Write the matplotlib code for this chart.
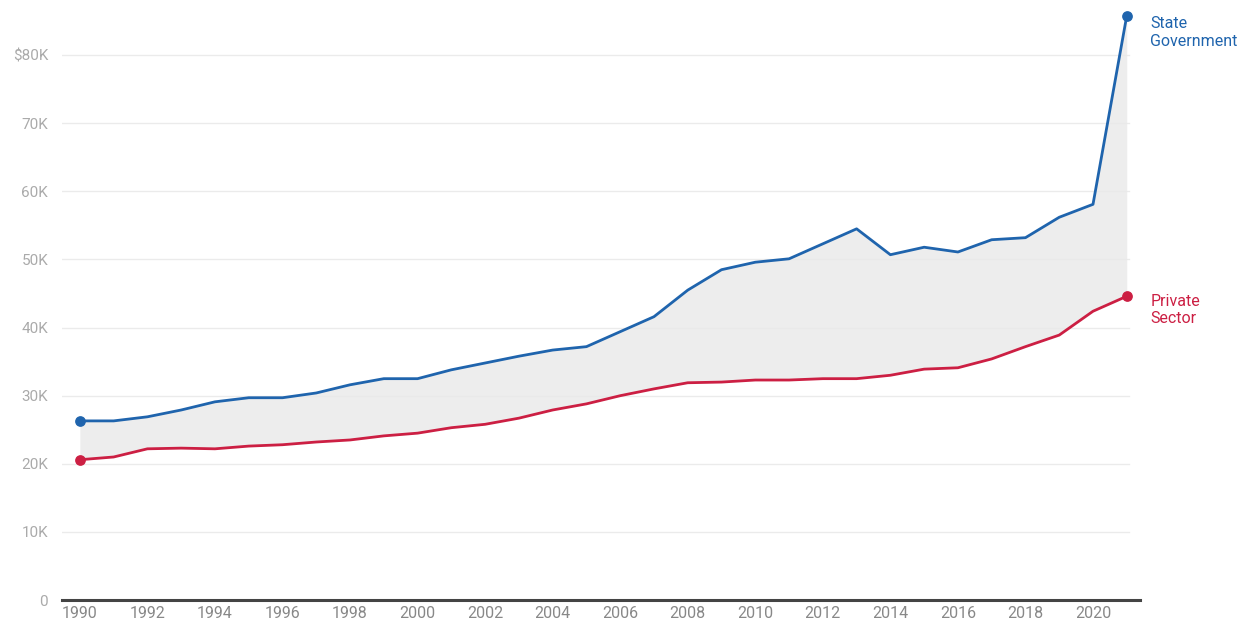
import matplotlib.pyplot as plt
import numpy as np

years = list(range(1990, 2022))
state_gov = [26.3, 26.3, 26.9, 27.9, 29.1, 29.7, 29.7, 30.4, 31.6, 32.5,
             32.5, 33.8, 34.8, 35.8, 36.7, 37.2, 39.4, 41.6, 45.5, 48.5,
             49.6, 50.1, 52.3, 54.5, 50.7, 51.8, 51.1, 52.9, 53.2, 56.2,
             58.1, 85.8]
private = [20.6, 21.0, 22.2, 22.3, 22.2, 22.6, 22.8, 23.2, 23.5, 24.1,
           24.5, 25.3, 25.8, 26.7, 27.9, 28.8, 30.0, 31.0, 31.9, 32.0,
           32.3, 32.3, 32.5, 32.5, 33.0, 33.9, 34.1, 35.4, 37.2, 38.9,
           42.4, 44.6]
yticks = [0, 10, 20, 30, 40, 50, 60, 70, 80]
ytick_labels = ['0', '10K', '20K', '30K', '40K', '50K', '60K', '70K', '$80K']
xticks = list(range(1990, 2021, 2))

plt.rcParams['font.family'] = ['Roboto', 'DejaVu Sans']

blue = '#1f64ad'
red = '#cc1f43'

fig = plt.figure(figsize=(12.52, 6.3), dpi=100)
ax = fig.add_axes([0.0495, 0.0476, 0.861, 0.9524])

x = np.array(years)
s = np.array(state_gov) * 1000
p = np.array(private) * 1000

ax.fill_between(x, p, s, color='#e9e9e9', alpha=0.8, lw=0, zorder=1)
ax.plot(x, s, color=blue, lw=2, zorder=3)
ax.plot(x, p, color=red, lw=2, zorder=3)
for ser, c in [(s, blue), (p, red)]:
    ax.scatter([x[0], x[-1]], [ser[0], ser[-1]], color=c, s=45, zorder=4, clip_on=False)

ax.set_xlim(1989.47, 2021.39)
ax.set_ylim(0, 88100)
ax.set_yticks([v * 1000 for v in yticks])
ax.set_yticklabels(ytick_labels)
ax.set_xticks(xticks)
ax.set_xticklabels([str(v) for v in xticks])

for v in yticks[1:]:
    ax.axhline(v * 1000, color='#ebebeb', lw=1, zorder=0, xmax=0.99)

for sp in ['top', 'right', 'left']:
    ax.spines[sp].set_visible(False)
ax.spines['bottom'].set_color('#444444')
ax.spines['bottom'].set_linewidth(2.2)
ax.tick_params(axis='y', length=0, pad=10, labelsize=11, labelcolor='#aaaaaa')
ax.tick_params(axis='x', length=0, pad=4, labelsize=11.5, labelcolor='#888888')

ax.annotate('State\nGovernment', xy=(x[-1], s[-1]), xytext=(17, -12),
            textcoords='offset points', color=blue, fontsize=11.5, va='center', ha='left',
            annotation_clip=False, linespacing=1.2)
ax.annotate('Private\nSector', xy=(x[-1], p[-1]), xytext=(17, -10),
            textcoords='offset points', color=red, fontsize=11.5, va='center', ha='left',
            annotation_clip=False, linespacing=1.2)

fig.savefig('out.png', dpi=100)
